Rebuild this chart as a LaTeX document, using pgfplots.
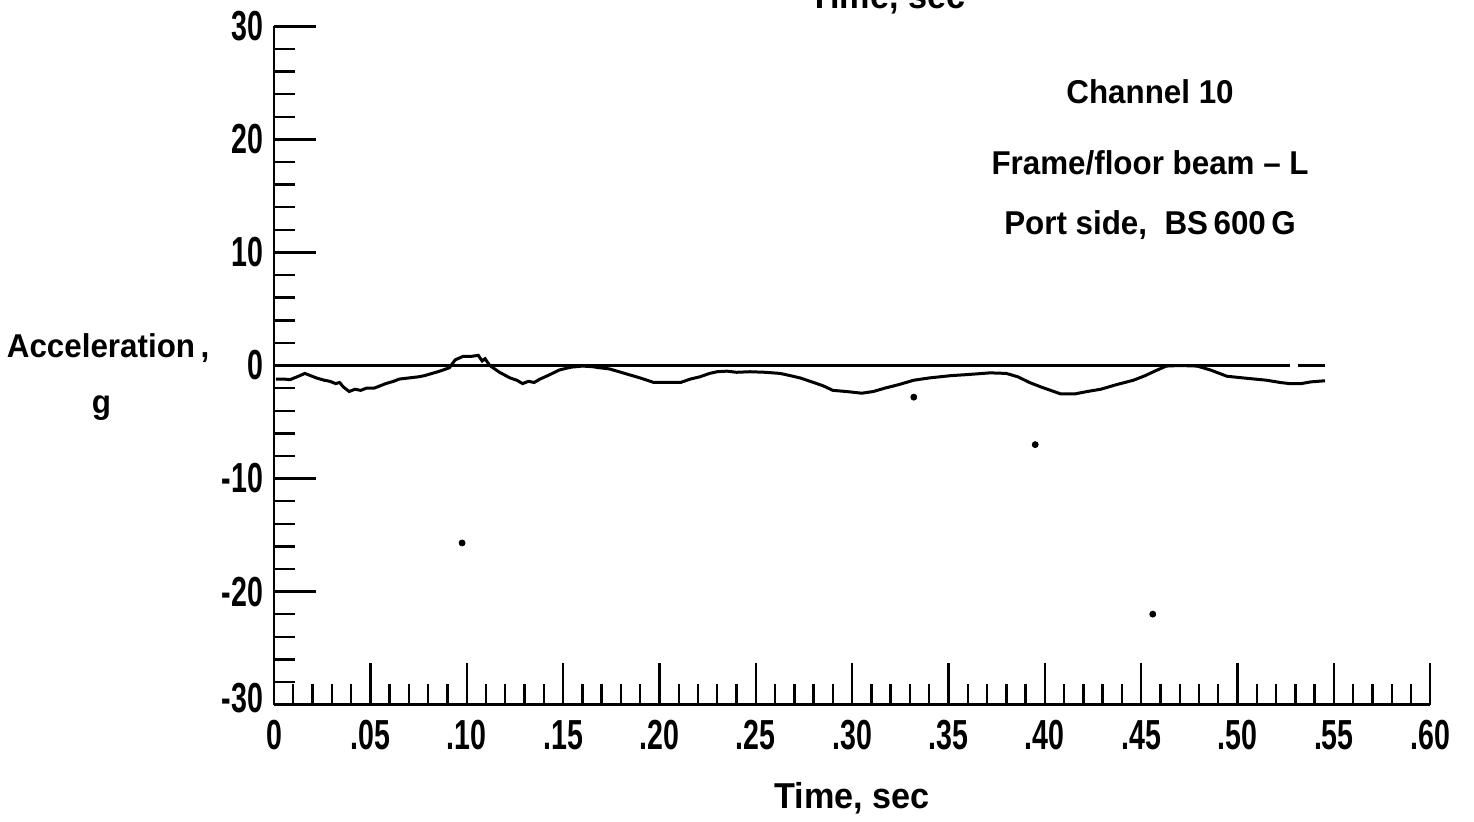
\documentclass[border=0pt]{standalone}
\usepackage{fontspec}
\setmainfont{Liberation Sans}[FakeStretch=0.95]
\newfontfamily\cond{Liberation Sans}[FakeStretch=0.68]
\usepackage{pgfplots}
\pgfplotsset{compat=1.18}

\begin{document}
\begin{tikzpicture}
\begin{axis}[
  scale only axis, width=578pt, height=339pt,
  xmin=0, xmax=0.6, ymin=-30, ymax=30,
  axis x line*=bottom, axis y line*=left,
  axis line style={line width=1.3pt, -},
  tick align=inside,
  xtick={0,0.05,0.1,0.15,0.2,0.25,0.3,0.35,0.4,0.45,0.5,0.55,0.6},
  xticklabels={0,.05,.10,.15,.20,.25,.30,.35,.40,.45,.50,.55,.60},
  ytick={-30,-20,-10,0,10,20,30},
  yticklabels={\raisebox{7pt}{-30},-20,-10,0,10,20,30},
  minor x tick num=4, minor y tick num=4,
  major tick length=21pt, minor tick length=10.5pt,
  tick style={black, line width=1.2pt},
  ticklabel style={font=\cond\fontsize{21}{24}\selectfont\bfseries},
  xticklabel style={text height=15pt, text depth=0pt, yshift=-4pt},
  yticklabel style={xshift=-2pt},
  clip=false,
]
% zero reference line
\addplot[black, line width=1.3pt] coordinates {(0,0) (0.527,0)};
\addplot[black, line width=1.3pt] coordinates {(0.5315,0) (0.5454,0)};
% acceleration trace
\addplot[black, line width=1.5pt] coordinates {
(0.001,-1.2)(0.005,-1.2)(0.0083,-1.25)(0.012,-1.0)(0.016,-0.7)(0.019,-0.9)(0.022,-1.1)(0.026,-1.3)(0.029,-1.4)(0.032,-1.6)(0.034,-1.5)(0.036,-1.9)(0.039,-2.3)(0.042,-2.1)(0.045,-2.2)(0.048,-2.0)(0.052,-2.0)(0.055,-1.8)(0.058,-1.6)(0.062,-1.4)(0.065,-1.2)(0.070,-1.1)(0.075,-1.0)(0.078,-0.9)(0.082,-0.7)(0.086,-0.5)(0.091,-0.2)(0.094,0.5)(0.098,0.8)(0.102,0.8)(0.106,0.9)(0.108,0.4)(0.1095,0.6)(0.112,0)(0.117,-0.6)(0.1225,-1.1)(0.126,-1.3)(0.129,-1.6)(0.132,-1.4)(0.135,-1.5)(0.138,-1.2)(0.142,-0.9)(0.148,-0.4)(0.154,-0.15)(0.160,-0.05)(0.165,-0.1)(0.169,-0.2)(0.174,-0.3)(0.178,-0.5)(0.184,-0.8)(0.190,-1.1)(0.197,-1.5)(0.204,-1.5)(0.211,-1.5)(0.216,-1.2)(0.221,-1.0)(0.226,-0.7)(0.230,-0.55)(0.235,-0.5)(0.240,-0.6)(0.247,-0.55)(0.255,-0.6)(0.2626,-0.7)(0.268,-0.9)(0.273,-1.1)(0.280,-1.5)(0.285,-1.8)(0.290,-2.2)(0.297,-2.3)(0.305,-2.45)(0.311,-2.3)(0.317,-2.0)(0.324,-1.7)(0.332,-1.3)(0.340,-1.1)(0.351,-0.9)(0.360,-0.8)(0.3716,-0.65)(0.380,-0.7)(0.386,-1.0)(0.392,-1.5)(0.398,-1.9)(0.403,-2.2)(0.408,-2.5)(0.416,-2.5)(0.422,-2.3)(0.429,-2.1)(0.437,-1.7)(0.446,-1.3)(0.452,-0.9)(0.457,-0.5)(0.463,-0.05)(0.470,0.0)(0.479,-0.05)(0.486,-0.4)(0.4945,-0.95)(0.503,-1.1)(0.515,-1.3)(0.522,-1.5)(0.527,-1.6)(0.533,-1.6)(0.538,-1.45)(0.5454,-1.35)
};
% stray specks
\addplot[only marks, mark=*, mark size=1.5pt, black] coordinates {(0.0976,-15.7)(0.332,-2.8)(0.395,-7.0)(0.456,-22.0)};
% annotations
\node[font=\fontsize{16.5}{19}\selectfont\bfseries] at (axis cs:0.4546,24.2) {Channel 10};
\node[font=\fontsize{16.5}{19}\selectfont\bfseries] at (axis cs:0.4546,17.9) {Frame/floor beam – L};
\node[font=\fontsize{16.5}{19}\selectfont\bfseries] at (axis cs:0.4546,12.4) {Port side,\ \ BS\,600\,G};
% axis labels
\node[font=\fontsize{16.5}{19}\selectfont\bfseries] at (axis cs:-0.0861,1.5) {Acceleration\,,};
\node[font=\fontsize{16.5}{19}\selectfont\bfseries] at (axis cs:-0.0895,-3.8) {g};
\node[anchor=base, font=\fontsize{18}{21}\selectfont\bfseries] at (axis cs:0.30,-39.2) {Time,\ sec};
\node[anchor=base, font=\fontsize{18}{21}\selectfont\bfseries] at (axis cs:0.3184,31.6) {Time,\ sec};
\coordinate (bbl) at (axis cs:-0.1422,-40.32);
\coordinate (btr) at (axis cs:0.6227,32.34);
\end{axis}
\pgfresetboundingbox
\useasboundingbox (bbl) rectangle (btr);
\end{tikzpicture}
\end{document}
